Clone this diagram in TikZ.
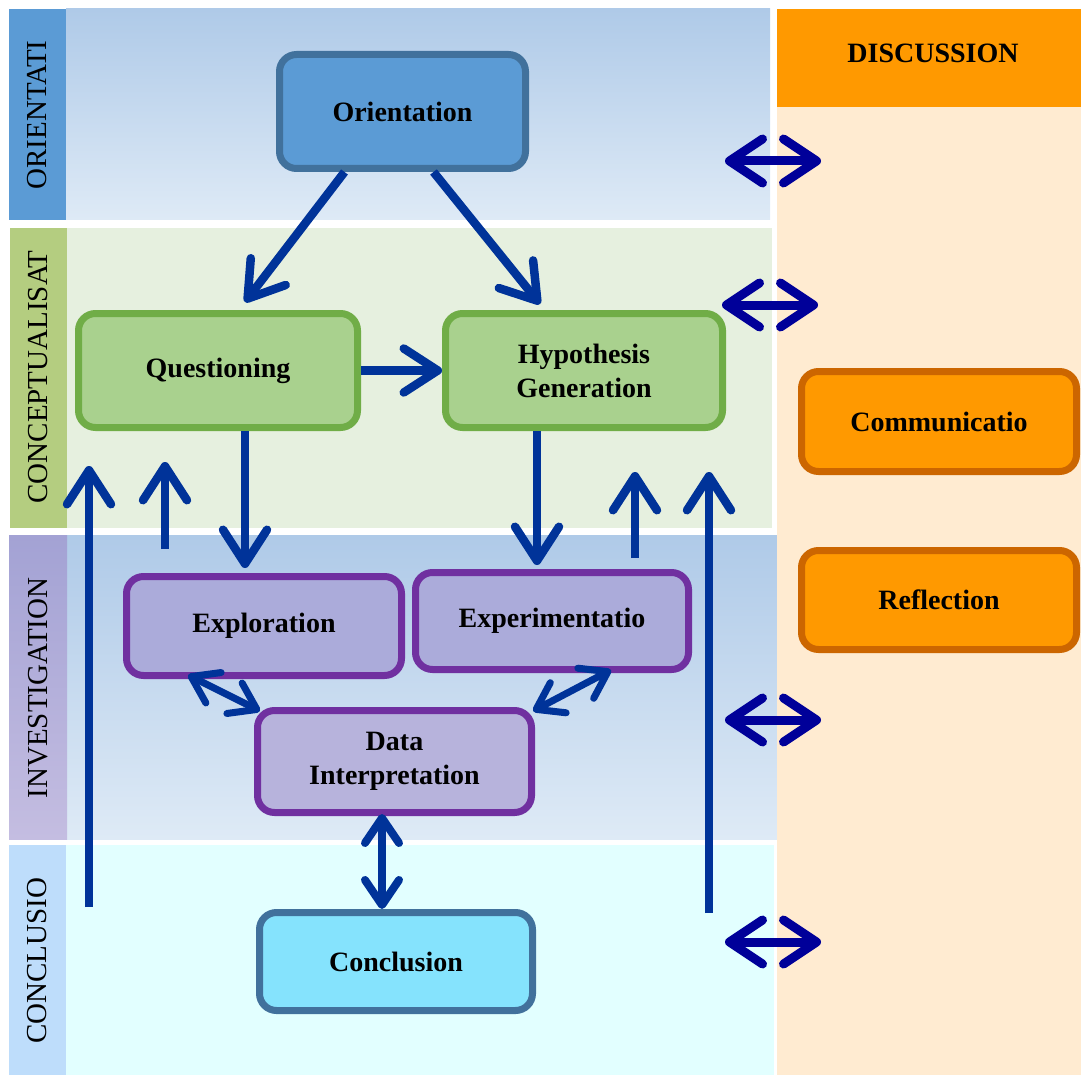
\documentclass[tikz,border=0pt]{standalone}
\usepackage{fontspec}
\setmainfont{Liberation Serif}
\usetikzlibrary{arrows.meta}

\definecolor{flowblue}{HTML}{003399}
\definecolor{discblue}{HTML}{000099}
\definecolor{bandTop}{HTML}{AFCAE8}
\definecolor{bandBot}{HTML}{DEEAF6}
\definecolor{oriStrip}{HTML}{5B9BD5}
\definecolor{conStrip}{HTML}{B4CD80}
\definecolor{conBand}{HTML}{E6F0DF}
\definecolor{invTop}{HTML}{A3A2D4}
\definecolor{invBot}{HTML}{C4BDE1}
\definecolor{endStrip}{HTML}{BEDDFB}
\definecolor{endBand}{HTML}{E2FFFF}
\definecolor{disHead}{HTML}{FF9900}
\definecolor{disBand}{HTML}{FFEBD1}
\definecolor{oriFill}{HTML}{5B9BD5}
\definecolor{oriLine}{HTML}{41719C}
\definecolor{conFill}{HTML}{A9D18E}
\definecolor{conLine}{HTML}{70AD47}
\definecolor{invFill}{HTML}{ABABDA}
\definecolor{datFill}{HTML}{B7B3DC}
\definecolor{invLine}{HTML}{7030A0}
\definecolor{endFill}{HTML}{85E3FD}
\definecolor{disFill}{HTML}{FF9900}
\definecolor{disLine}{HTML}{CC6600}

\begin{document}
\begin{tikzpicture}[
  x=1pt, y=-1pt,
  box/.style={rounded corners=17pt, line width=7pt, inner sep=0pt, align=center,
    font=\fontsize{28}{34}\selectfont\bfseries},
  oribox/.style={box, fill=oriFill, draw=oriLine},
  conbox/.style={box, fill=conFill, draw=conLine},
  invbox/.style={box, fill=invFill, draw=invLine},
  endbox/.style={box, fill=endFill, draw=oriLine},
  disbox/.style={box, fill=disFill, draw=disLine},
  lab/.style={rotate=90, font=\fontsize{29}{34}\selectfont},
  flow/.style={flowblue, line width=8.5pt, -{Straight Barb[length=34pt,width=44pt,round]}},
  link/.style={flowblue, line width=7pt,
    {Straight Barb[length=25pt,width=34pt,round]}-{Straight Barb[length=25pt,width=34pt,round]}},
  talk/.style={discblue, line width=9pt,
    {Straight Barb[length=33pt,width=44pt,round]}-{Straight Barb[length=33pt,width=44pt,round]}}
]
  \useasboundingbox (0,0) rectangle (1081,1075);

  % Bands
  \shade[top color=bandTop, bottom color=bandBot] (66,9) rectangle (770,220);
  \fill[oriStrip] (9,9) rectangle (66,220);
  \fill[conBand] (67,228) rectangle (772,528);
  \fill[conStrip] (10,228) rectangle (67,528);
  \shade[top color=bandTop, bottom color=bandBot] (67,535) rectangle (777,839);
  \shade[top color=invTop, bottom color=invBot] (9,535) rectangle (67,839);
  \fill[endBand] (66,845) rectangle (774,1075);
  \fill[endStrip] (9,845) rectangle (66,1075);
  \fill[disBand] (777,9) rectangle (1081,1075);
  \fill[disHead] (777,9) rectangle (1081,107);

  % Band labels
  \node[lab] (lOri) at (37.5,115) {ORIENTATI};
  \node[lab] (lCon) at (38.5,377) {CONCEPTUALISAT};
  \node[lab] (lInv) at (38,688) {INVESTIGATION};
  \node[lab] (lEnd) at (37.5,961) {CONCLUSIO};
  \node[font=\fontsize{28}{34}\selectfont\bfseries] (dHead) at (933,53) {DISCUSSION};

  % Phases
  \node[oribox, minimum width=246, minimum height=114] (ori) at (402.5,111.5) {Orientation};
  \node[conbox, minimum width=279, minimum height=114] (que) at (218,370.5) {Questioning};
  \node[conbox, minimum width=277, minimum height=114] (hyp) at (584,370.5) {Hypothesis\\Generation};
  \node[invbox, minimum width=275, minimum height=99] (exl) at (264,626) {Exploration};
  \node[invbox, minimum width=273, minimum height=97] (exm) at (552,621) {Experimentatio};
  \node[invbox, fill=datFill, minimum width=274, minimum height=102] (dat) at (394.5,761.5) {Data\\Interpretation};
  \node[endbox, minimum width=273, minimum height=98] (con) at (396,961.5) {Conclusion};
  \node[disbox, minimum width=275, minimum height=100] (com) at (939,421.5) {Communicatio};
  \node[disbox, minimum width=275, minimum height=99] (ref) at (939,600) {Reflection};

  % Main flow
  \draw[flow] ([xshift=-58pt]ori.south) -- ([xshift=27pt,yshift=8pt]que.north);
  \draw[flow] ([xshift=31pt]ori.south) -- ([xshift=-44pt,yshift=6pt]hyp.north);
  \draw[flow] (que.east) -- (hyp.west);
  \draw[flow] ([xshift=27pt]que.south) -- ([xshift=-19pt,yshift=5pt]exl.north);
  \draw[flow] ([xshift=-47pt]hyp.south) -- ([xshift=-15pt,yshift=4pt]exm.north);

  % Going back up
  \foreach \n/\xa/\ya/\yb in {a/89/907/466, b/165/549/462, c/635/558/472, d/709/913/472} {
    \coordinate (up\n0) at (\xa,\ya);
    \coordinate (up\n1) at (\xa,\yb);
    \draw[flow] (up\n0) -- (up\n1);
  }

  % Investigation links
  \draw[link] ([xshift=-76pt,yshift=4pt]exl.south) -- ([xshift=6pt,yshift=-4pt]dat.north west);
  \draw[link] ([xshift=59pt,yshift=3pt]exm.south) -- ([xshift=-2pt,yshift=-4pt]dat.north east);
  \draw[link, line width=8pt] ([xshift=-12.5pt,yshift=2pt]dat.south) -- ([xshift=-14pt]con.north);

  % Discussion
  \foreach \y/\xa/\xb [count=\i] in {161/725/821, 305/722/818, 720/725/821, 942/725/821} {
    \coordinate (dl\i) at (\xa,\y);
    \coordinate (dr\i) at (\xb,\y);
    \draw[talk] (dl\i) -- (dr\i);
  }
\end{tikzpicture}
\end{document}
